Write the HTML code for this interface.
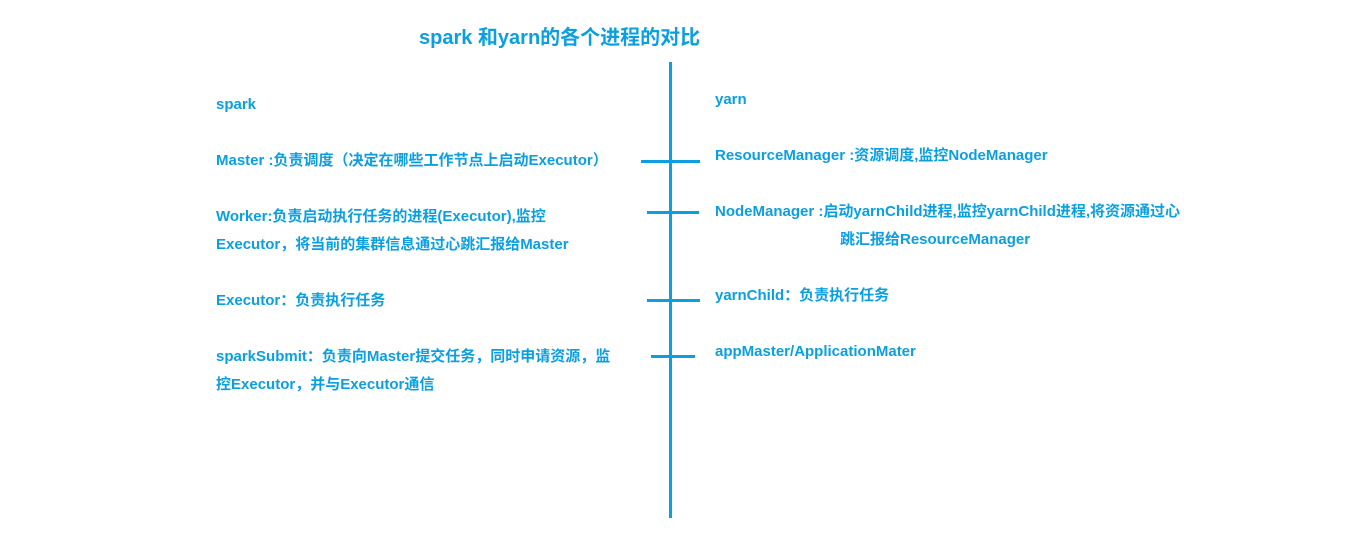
<!DOCTYPE html>
<html><head><meta charset="utf-8"><style>
body{margin:0;width:1352px;height:540px;background:#fff;position:relative;overflow:hidden;font-family:"Liberation Sans","Noto Sans CJK SC",sans-serif;color:#0b9fe0;font-weight:bold}
.t{position:absolute;font-size:15px;white-space:nowrap;line-height:28px}
.l{position:absolute;background:#0b9fe0}
</style></head><body>
<div class="t" style="left:419px;top:24px;font-size:20px;">spark 和yarn的各个进程的对比</div>
<div class="l" style="left:669px;top:62px;width:3px;height:456px"></div>
<div class="l" style="left:641px;top:160px;width:59px;height:3px"></div>
<div class="l" style="left:647px;top:211px;width:52px;height:3px"></div>
<div class="l" style="left:647px;top:299px;width:53px;height:3px"></div>
<div class="l" style="left:651px;top:355px;width:44px;height:3px"></div>

<div class="t" style="left:216px;top:91px">spark</div>
<div class="t" style="left:216px;top:147px">Master :负责调度（决定在哪些工作节点上启动Executor）</div>
<div class="t" style="left:216px;top:203px">Worker:负责启动执行任务的进程(Executor),监控<br>Executor，将当前的集群信息通过心跳汇报给Master</div>
<div class="t" style="left:216px;top:287px">Executor：负责执行任务</div>
<div class="t" style="left:216px;top:343px">sparkSubmit：负责向Master提交任务，同时申请资源，监<br>控Executor，并与Executor通信</div>

<div class="t" style="left:715px;top:86px">yarn</div>
<div class="t" style="left:715px;top:142px">ResourceManager :资源调度,监控NodeManager</div>
<div class="t" style="left:715px;top:198px">NodeManager :启动yarnChild进程,监控yarnChild进程,将资源通过心</div>
<div class="t" style="left:840px;top:226px">跳汇报给ResourceManager</div>
<div class="t" style="left:715px;top:282px">yarnChild：负责执行任务</div>
<div class="t" style="left:715px;top:338px">appMaster/ApplicationMater</div>
</body></html>
